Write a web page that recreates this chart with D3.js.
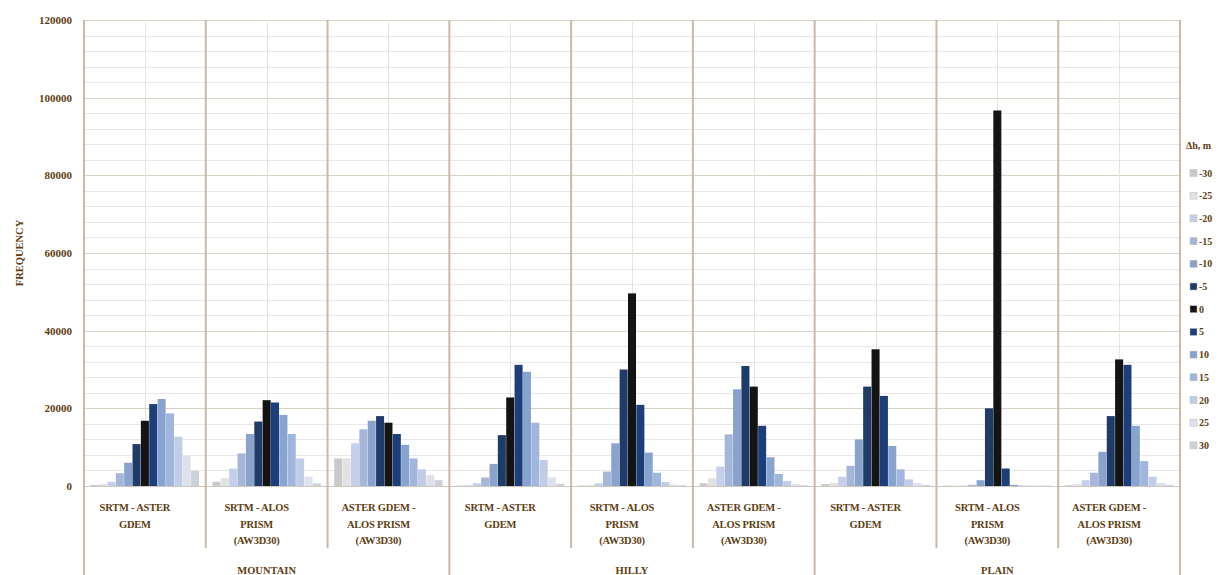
<!DOCTYPE html>
<html>
<head>
<meta charset="utf-8">
<script src="https://cdn.jsdelivr.net/npm/d3@7"></script>
<style>
  body { margin: 0; background: #fff; }
  svg { display: block; }
  .lbl { font-family: 'Liberation Serif', serif; font-weight: bold; fill: #5e3e12; }
</style>
</head>
<body>
<div id="chart"></div>
<script>
// terrain groups and DEM comparisons (x axis, two levels)
const groups = ['MOUNTAIN', 'HILLY', 'PLAIN'];
const comparisons = [
  ['SRTM - ASTER', 'GDEM'],
  ['SRTM - ALOS', 'PRISM', '(AW3D30)'],
  ['ASTER GDEM -', 'ALOS PRISM', '(AW3D30)'],
];

// elevation difference classes (legend)
const dh = ['-30', '-25', '-20', '-15', '-10', '-5', '0', '5', '10', '15', '20', '25', '30'];

// frequency per dh class, one array per panel
const mountainSrtmAster = [300, 500, 1100, 3300, 6000, 10800, 16800, 21100, 22400, 18700, 12700, 7700, 3900];
const mountainSrtmAlos = [1100, 2000, 4500, 8400, 13400, 16600, 22100, 21500, 18300, 13400, 7100, 2400, 700];
const mountainAsterAlos = [7100, 7100, 11000, 14600, 16800, 18000, 16300, 13400, 10600, 7100, 4300, 2800, 1500];
const hillySrtmAster = [100, 300, 700, 2200, 5700, 13100, 22800, 31200, 29400, 16300, 6700, 2200, 600];
const hillySrtmAlos = [100, 300, 700, 3700, 11000, 30000, 49600, 20900, 8600, 3400, 1000, 400, 200];
const hillyAsterAlos = [700, 2000, 5000, 13300, 24900, 30900, 25600, 15500, 7400, 3100, 1300, 500, 200];
const plainSrtmAster = [500, 800, 2400, 5200, 12000, 25600, 35200, 23200, 10300, 4300, 1700, 800, 300];
const plainSrtmAlos = [100, 100, 100, 300, 1500, 20000, 96700, 4500, 300, 100, 100, 100, 100];
const plainAsterAlos = [200, 500, 1500, 3400, 8800, 18000, 32600, 31200, 15500, 6400, 2400, 800, 300];

const panels = [
  mountainSrtmAster, mountainSrtmAlos, mountainAsterAlos,
  hillySrtmAster, hillySrtmAlos, hillyAsterAlos,
  plainSrtmAster, plainSrtmAlos, plainAsterAlos,
];

const yTicks = [0, 20000, 40000, 60000, 80000, 100000, 120000];

const colors = ['#c9c9c9', '#e2e2e2', '#c6cfe9', '#a6b6d9', '#8aa3cc', '#1f3b68', '#141414',
  '#1c3e7a', '#87a3cf', '#a1b6dc', '#c1cde6', '#dde2ea', '#cdd1d8'];

const W = 1224, H = 575;
const plot = { left: 84, right: 1180, top: 20, bottom: 486 };

const svg = d3.select('#chart').append('svg')
  .attr('width', W)
  .attr('height', H);

const x0 = d3.scaleBand()
  .domain(d3.range(panels.length))
  .range([plot.left, plot.right])
  .padding(0);

const x1 = d3.scaleBand()
  .domain(dh)
  .range([0, x0.bandwidth()])
  .paddingInner(0.04)
  .paddingOuter(0.8);

const y = d3.scaleLinear()
  .domain([0, 120000])
  .range([plot.bottom, plot.top]);

const color = d3.scaleOrdinal().domain(dh).range(colors);

// minor horizontal gridlines
svg.append('g')
  .selectAll('line')
  .data(d3.range(0, 120001, 4000))
  .join('line')
  .attr('x1', plot.left).attr('x2', plot.right)
  .attr('y1', (d) => Math.round(y(d)) + 0.5)
  .attr('y2', (d) => Math.round(y(d)) + 0.5)
  .attr('stroke', '#e8e8e8');

// major horizontal gridlines
svg.append('g')
  .selectAll('line')
  .data(yTicks)
  .join('line')
  .attr('x1', plot.left).attr('x2', plot.right)
  .attr('y1', (d) => Math.round(y(d)) + 0.5)
  .attr('y2', (d) => Math.round(y(d)) + 0.5)
  .attr('stroke', '#dad2c4');

// light vertical line at centre of each panel
svg.append('g')
  .selectAll('line')
  .data(d3.range(panels.length))
  .join('line')
  .attr('x1', (d) => Math.round(x0(d) + x0.bandwidth() / 2) + 0.5)
  .attr('x2', (d) => Math.round(x0(d) + x0.bandwidth() / 2) + 0.5)
  .attr('y1', plot.top).attr('y2', plot.bottom)
  .attr('stroke', '#e4e4e4');

// bars
const panelG = svg.append('g')
  .selectAll('g')
  .data(panels)
  .join('g')
  .attr('transform', (d, i) => `translate(${x0(i)},0)`);

panelG.selectAll('rect')
  .data((d) => d.map((v, j) => ({ key: dh[j], value: v })))
  .join('rect')
  .attr('x', (d) => x1(d.key))
  .attr('width', x1.bandwidth())
  .attr('y', (d) => y(d.value))
  .attr('height', (d) => y(0) - y(d.value))
  .attr('fill', (d) => color(d.key));

// x axis line
svg.append('line')
  .attr('x1', plot.left).attr('x2', plot.right)
  .attr('y1', plot.bottom + 0.5).attr('y2', plot.bottom + 0.5)
  .attr('stroke', '#cfc8bd');

// panel dividers (longer at group boundaries)
svg.append('g')
  .selectAll('line')
  .data(d3.range(panels.length + 1))
  .join('line')
  .attr('x1', (d) => (d < panels.length ? x0(d) : plot.right))
  .attr('x2', (d) => (d < panels.length ? x0(d) : plot.right))
  .attr('y1', plot.top)
  .attr('y2', (d) => (d % 3 === 0 ? H : 548))
  .attr('stroke', '#cbb9a6')
  .attr('stroke-width', 2);

// y axis labels
const yAxis = svg.append('g')
  .attr('transform', `translate(${plot.left - 12},0)`)
  .call(d3.axisLeft(y).tickValues(yTicks).tickSize(0).tickFormat(d3.format('d')));
yAxis.select('.domain').remove();
yAxis.selectAll('text')
  .attr('class', 'lbl')
  .attr('x', 0)
  .style('font-size', '11px');

svg.append('text')
  .attr('class', 'lbl')
  .attr('transform', `translate(23,${(plot.top + plot.bottom) / 2}) rotate(-90)`)
  .attr('text-anchor', 'middle')
  .style('font-size', '10.5px')
  .text('FREQUENCY');

// category labels (sit slightly left of panel centre in the original)
const catG = svg.append('g')
  .selectAll('text')
  .data(d3.range(panels.length))
  .join('text')
  .attr('class', 'lbl')
  .attr('text-anchor', 'middle')
  .style('font-size', '10.5px')
  .style('letter-spacing', '-0.2px');

catG.selectAll('tspan')
  .data((i) => comparisons[i % 3].map((t) => ({ t, i })))
  .join('tspan')
  .attr('x', (d) => x0(d.i) + x0.bandwidth() / 2 - 10)
  .attr('y', (d, k) => 511 + k * 16.5)
  .text((d) => d.t);

// group labels
svg.append('g')
  .selectAll('text')
  .data(groups)
  .join('text')
  .attr('class', 'lbl')
  .attr('text-anchor', 'middle')
  .attr('x', (d, g) => (x0(g * 3) + x0(g * 3 + 2) + x0.bandwidth()) / 2)
  .attr('y', 574)
  .style('font-size', '10.5px')
  .text((d) => d);

// legend
const legend = svg.append('g').attr('transform', 'translate(1186,0)');
legend.append('text')
  .attr('class', 'lbl')
  .attr('x', 0).attr('y', 149)
  .style('font-size', '10px')
  .text('Δh, m');

const item = legend.selectAll('g.item')
  .data(dh)
  .join('g')
  .attr('class', 'item')
  .attr('transform', (d, i) => `translate(0,${173 + i * 22.7})`);

item.append('rect')
  .attr('x', 4).attr('y', -3.5)
  .attr('width', 7).attr('height', 7)
  .attr('fill', (d) => color(d))
  .attr('stroke', '#bbb')
  .attr('stroke-width', 0.5);

item.append('text')
  .attr('class', 'lbl')
  .attr('x', 13).attr('y', 3.5)
  .style('font-size', '10px')
  .text((d) => d);
</script>
</body>
</html>
